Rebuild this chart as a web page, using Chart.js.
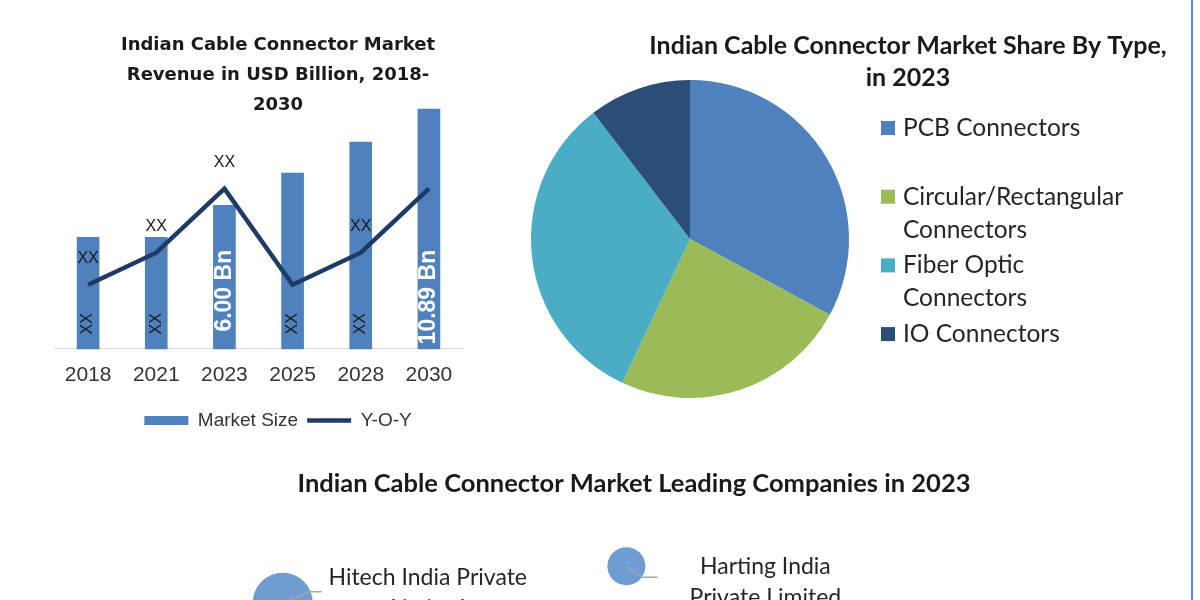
<!DOCTYPE html>
<html>
<head>
<meta charset="utf-8">
<title>Indian Cable Connector Market</title>
<script src="https://cdn.jsdelivr.net/npm/chart.js@4.4.1/dist/chart.umd.min.js"></script>
<style>
  html, body { margin: 0; padding: 0; background: #ffffff; }
  body { width: 1200px; height: 600px; position: relative; overflow: hidden; }
  canvas { position: absolute; }
  #revenueChart { left: 40px; top: 20px; }
  #shareChart { left: 500px; top: 0; }
  #companyChart { left: 0; top: 440px; }
  .frame-edge { position: absolute; left: 1191px; top: 0; width: 2px; height: 600px; background: #5b8bcf; }
</style>
</head>
<body>
<canvas id="revenueChart" width="462" height="420"></canvas>
<canvas id="shareChart" width="816" height="440"></canvas>
<canvas id="companyChart" width="1268" height="220"></canvas>
<div class="frame-edge"></div>
<script>
// revenue panel
const years = ['2018', '2021', '2023', '2025', '2028', '2030'];
const marketSize = [4.37, 4.37, 6.00, 7.63, 9.21, 10.89];
const marketSizeLabels = ['XX', 'XX', '6.00 Bn', 'XX', 'XX', '10.89 Bn'];
const yoyGrowth = [2.8, 4.2, 7.0, 2.8, 4.2, 7.0];
const yoyLabels = ['XX', 'XX', 'XX', '', 'XX', ''];

// share by type panel
const connectorTypes = ['PCB Connectors', 'Circular/Rectangular Connectors', 'Fiber Optic Connectors', 'IO Connectors'];
const connectorLegendLines = [['PCB Connectors', ''], ['Circular/Rectangular', 'Connectors'], ['Fiber Optic', 'Connectors'], ['IO Connectors']];
const typeShare = [32.9, 24.1, 32.6, 10.4];

// leading companies panel
const companyNames = [['Hitech India Private', 'Limited'], ['Harting India', 'Private Limited']];
const companyX = [22.3, 49.4];
const companyY = [37.8, 61.9];
const companySize = [30, 19];

const SIZE_MIN = -1.285;
const BAR_BLUE = '#4f81bd';
const NAVY = '#1f3a66';
const typeColors = ['#4f81bd', '#9bbb59', '#4bacc6', '#2c4d75'];
const BUBBLE_BLUE = '#6f9cd2';
const TEXT = '#1a1a1a';
const SANS = '"Liberation Sans", Arial, sans-serif';

// labels inside the bars and above the Y-O-Y line
const revenueLabels = {
  id: 'revenueLabels',
  afterDatasetsDraw(chart) {
    const ctx = chart.ctx;
    const bars = chart.getDatasetMeta(0).data;
    const points = chart.getDatasetMeta(1).data;
    bars.forEach((bar, i) => {
      const text = marketSizeLabels[i];
      const isValue = text.endsWith('Bn');
      ctx.save();
      ctx.translate(bar.x, isValue ? bar.base - 99 : bar.base - 25);
      ctx.rotate(-Math.PI / 2);
      ctx.textBaseline = 'middle';
      if (isValue) {
        ctx.font = 'bold 23px ' + SANS;
        ctx.fillStyle = '#ffffff';
        ctx.textAlign = 'right';
      } else {
        ctx.font = '16px ' + SANS;
        ctx.fillStyle = TEXT;
        ctx.textAlign = 'center';
      }
      ctx.fillText(text, 0, 0);
      ctx.restore();
    });
    ctx.save();
    ctx.font = '16px ' + SANS;
    ctx.fillStyle = TEXT;
    ctx.textAlign = 'center';
    ctx.textBaseline = 'middle';
    points.forEach((pt, i) => {
      if (yoyLabels[i]) ctx.fillText(yoyLabels[i], pt.x, pt.y - 26);
    });
    ctx.restore();
  }
};

new Chart(document.getElementById('revenueChart'), {
  data: {
    labels: years,
    datasets: [
      {
        type: 'bar',
        label: 'Market Size',
        data: marketSize,
        yAxisID: 'y',
        backgroundColor: BAR_BLUE,
        barThickness: 22,
        base: SIZE_MIN,
        order: 2,
        clip: false,
        pointStyle: 'rect'
      },
      {
        type: 'line',
        label: 'Y-O-Y',
        data: yoyGrowth,
        yAxisID: 'y1',
        borderColor: NAVY,
        backgroundColor: NAVY,
        borderWidth: 4.5,
        borderJoinStyle: 'miter',
        pointRadius: 0,
        pointBorderWidth: 4.5,
        pointBorderColor: NAVY,
        pointStyle: 'line',
        tension: 0,
        order: 1,
        clip: false
      }
    ]
  },
  options: {
    responsive: false,
    animation: false,
    layout: { autoPadding: false, padding: { left: 14, bottom: 0 } },
    scales: {
      x: {
        grid: { display: false, drawTicks: false },
        border: { display: true, color: '#d9d9d9', width: 1 },
        ticks: { color: '#333333', padding: 14, font: { family: SANS, size: 21 } }
      },
      y: { display: false, min: SIZE_MIN, max: 10.33 },
      y1: {
        position: 'right',
        min: 0,
        max: 10,
        grid: { display: false, drawTicks: false },
        border: { display: false },
        ticks: { display: false },
        afterFit(scale) { scale.width = 39; }
      }
    },
    plugins: {
      title: {
        display: true,
        text: ['Indian Cable Connector Market', 'Revenue in USD Billion, 2018-', '2030'],
        color: TEXT,
        font: { family: '"DejaVu Sans", sans-serif', size: 18, weight: 'bold', lineHeight: '30px' },
        padding: { top: 10, bottom: 0 }
      },
      legend: {
        position: 'bottom',
        labels: {
          usePointStyle: true,
          pointStyleWidth: 44,
          boxHeight: 9,
          padding: 9,
          color: '#333333',
          font: { family: SANS, size: 19 },
          sort: (a, b) => a.datasetIndex - b.datasetIndex
        }
      },
      tooltip: { enabled: false }
    }
  },
  plugins: [revenueLabels]
});

// legend box placed to the right of the pie
const LEGEND_WIDTH = 436;
const typeLegend = {
  id: 'typeLegend',
  beforeInit(chart) {
    const box = {
      position: 'right',
      weight: 10,
      fullSize: false,
      options: {},
      left: 0, top: 0, right: 0, bottom: 0, width: 0, height: 0,
      isHorizontal() { return false; },
      update(maxWidth, maxHeight) {
        this.width = LEGEND_WIDTH;
        this.height = maxHeight;
      },
      draw() {
        const ctx = chart.ctx;
        ctx.save();
        ctx.font = '24.5px Lato, sans-serif';
        ctx.textBaseline = 'middle';
        ctx.textAlign = 'left';
        connectorLegendLines.forEach((lines, i) => {
          const y = this.top + 34 + i * 68.7;
          ctx.fillStyle = typeColors[i];
          ctx.fillRect(this.left + 1, y - 7, 14, 14);
          ctx.fillStyle = '#262626';
          lines.forEach((line, j) => ctx.fillText(line, this.left + 23, y + j * 33));
        });
        ctx.restore();
      }
    };
    Chart.layouts.addBox(chart, box);
  }
};

new Chart(document.getElementById('shareChart'), {
  type: 'pie',
  data: {
    labels: connectorTypes,
    datasets: [{ data: typeShare, backgroundColor: typeColors, borderWidth: 0 }]
  },
  options: {
    responsive: false,
    animation: false,
    radius: 159,
    layout: { autoPadding: false, padding: { bottom: 56 } },
    plugins: {
      legend: { display: false },
      tooltip: { enabled: false },
      title: {
        display: true,
        text: ['Indian Cable Connector Market Share By Type,', 'in 2023'],
        color: TEXT,
        font: { family: 'Lato, sans-serif', size: 25, weight: 'bold', lineHeight: '32px' },
        padding: { top: 30, bottom: 0 }
      }
    }
  },
  plugins: [typeLegend]
});

// leader lines and names next to the bubbles
const calloutLayout = [
  { elbow: [27, -11], end: [39, -11], text: [145, -25] },
  { elbow: [16, 11], end: [31, 11], text: [139, 0] }
];
const companyLabels = {
  id: 'companyLabels',
  afterDatasetsDraw(chart) {
    const ctx = chart.ctx;
    chart.getDatasetMeta(0).data.forEach((pt, i) => {
      const c = calloutLayout[i];
      ctx.save();
      ctx.strokeStyle = '#a6a6a6';
      ctx.lineWidth = 1.5;
      ctx.beginPath();
      ctx.moveTo(pt.x, pt.y);
      ctx.lineTo(pt.x + c.elbow[0], pt.y + c.elbow[1]);
      ctx.lineTo(pt.x + c.end[0], pt.y + c.end[1]);
      ctx.stroke();
      ctx.font = '23px Lato, sans-serif';
      ctx.fillStyle = '#262626';
      ctx.textAlign = 'center';
      ctx.textBaseline = 'middle';
      companyNames[i].forEach((line, j) => ctx.fillText(line, pt.x + c.text[0], pt.y + c.text[1] + j * 31));
      ctx.restore();
    });
  }
};

new Chart(document.getElementById('companyChart'), {
  type: 'bubble',
  data: {
    datasets: [{
      label: 'Leading companies',
      data: companyX.map((x, i) => ({ x, y: companyY[i], r: companySize[i] })),
      backgroundColor: BUBBLE_BLUE,
      borderWidth: 0
    }]
  },
  options: {
    responsive: false,
    animation: false,
    layout: { autoPadding: false },
    scales: {
      x: { display: false, min: 0, max: 100 },
      y: { display: false, min: 0, max: 100 }
    },
    plugins: {
      legend: { display: false },
      tooltip: { enabled: false },
      title: {
        display: true,
        text: 'Indian Cable Connector Market Leading Companies in 2023',
        color: TEXT,
        font: { family: 'Lato, sans-serif', size: 25.5, weight: 'bold', lineHeight: 1.2 },
        padding: { top: 28, bottom: 10 }
      }
    }
  },
  plugins: [companyLabels]
});
</script>
</body>
</html>
